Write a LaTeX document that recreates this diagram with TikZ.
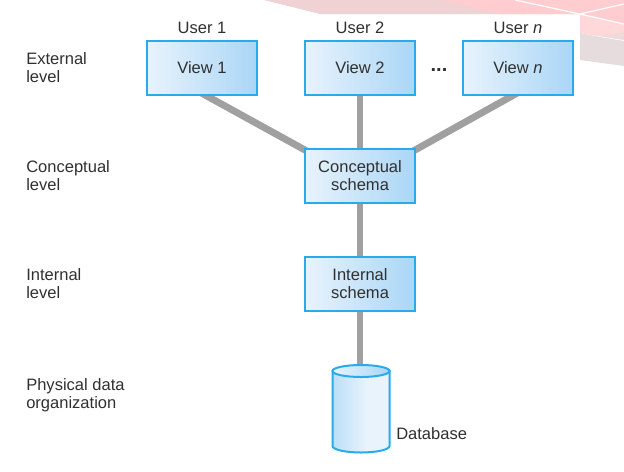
\documentclass[tikz,border=0pt]{standalone}
\usepackage{fontspec}
\setmainfont{Liberation Sans}
\usetikzlibrary{backgrounds}
\definecolor{boxedge}{HTML}{29ABE9}
\definecolor{boxlight}{HTML}{E8F3FC}
\definecolor{boxdark}{HTML}{AAD6F6}
\definecolor{linkgray}{HTML}{A0A0A0}
\definecolor{inktext}{HTML}{303030}
\definecolor{bandrose}{HTML}{F0D1D4}
\definecolor{bandred}{HTML}{FFCDD0}
\definecolor{bandpale}{HTML}{FFD8DA}
\definecolor{bandgray}{HTML}{E6DCDE}
\definecolor{bandmid}{HTML}{EFD9DB}
\pgfdeclarehorizontalshading{drumbody}{100bp}{
  color(0bp)=(boxdark); color(25bp)=(boxdark!80); color(55bp)=(boxlight);
  color(72bp)=(boxlight); color(100bp)=(boxdark)}
\tikzset{
  x=0.75pt, y=-0.75pt,
  every node/.style={font=\fontsize{12.4pt}{13.6pt}\selectfont, text=inktext},
  schemabox/.style={draw=boxedge, line width=1.5pt, left color=boxlight, right color=boxdark,
    minimum width=82pt, minimum height=41pt, inner sep=0pt, align=center},
  levellabel/.style={anchor=north west, align=left, inner sep=0pt},
  caption/.style={anchor=center, inner sep=0pt},
  link/.style={draw=linkgray, line width=5.2pt, shorten <=-5pt, shorten >=-5pt},
}
\begin{document}
\begin{tikzpicture}
  \useasboundingbox (0,0) rectangle (624,471);

  % Level captions on the left
  \node[levellabel] (lext) at (26,52) {External\\level};
  \node[levellabel] (lcon) at (26,160) {Conceptual\\level};
  \node[levellabel] (lint) at (26,268) {Internal\\level};
  \node[levellabel] (lphy) at (26,378) {Physical data\\organization};

  % Users and their views
  \node[caption] (u1) at (202,27.5) {User 1};
  \node[caption] (u2) at (360,27.5) {User 2};
  \node[caption] (un) at (518,27.5) {User \textit{n}};
  \node[schemabox] (v1) at (202,68) {View 1};
  \node[schemabox] (v2) at (360,68) {View 2};
  \node[schemabox] (vn) at (518,68) {View \textit{n}};
  \node[caption, anchor=base, font=\fontsize{15pt}{15pt}\selectfont\bfseries] (dots) at (439,71) {...};

  % Schemas
  \node[schemabox] (cs) at (360,176) {Conceptual\\schema};
  \node[schemabox] (is) at (360,284) {Internal\\schema};

  % Database drum; its top centre is where the link from the internal schema ends
  \coordinate (db) at (361,371);
  \draw[boxedge, line width=1.5pt, shading=drumbody]
    (332.5,371) -- (332.5,446) arc[start angle=180, end angle=0, x radius=28.5, y radius=6.5]
    -- (389.5,371) -- cycle;
  \draw[boxedge, line width=1.5pt, left color=boxlight, right color=boxdark]
    (db) ellipse[x radius=28.5, y radius=6];
  \node[caption, anchor=west] (dbl) at (396,434) {Database};

  \begin{pgfonlayer}{background}
    % Decorative band along the top edge
    \fill[bandrose] (264,0) -- (624,0) -- (624,14) -- (320,14) -- cycle;
    \fill[bandred] (440,0) -- (624,0) -- (624,14) -- (500,14) -- cycle;
    \fill[bandpale] (580,14) -- (624,14) -- (624,40) -- (580,33) -- cycle;
    \fill[bandred] (580,14) -- (624,4) -- (624,24) -- cycle;
    \fill[bandmid] (580,33) -- (600,36) -- (624,32) -- (624,40) -- cycle;
    \fill[bandgray] (580,33) -- (600,37) -- (624,41) -- (624,66) -- (580,60) -- cycle;
    \draw[white, line width=0.9pt] (515,0) -- (580,14) -- (624,24);
    \draw[white, line width=0.9pt] (580,14) -- (624,4);

    % Links between the levels
    \draw[link] ([xshift=4.1pt]v1.south) -- ([yshift=-1.5pt]cs.north west);
    \draw[link] (v2.south) -- (cs.north);
    \draw[link] ([xshift=-5pt]vn.south) -- ([yshift=-1.5pt]cs.north east);
    \draw[link] (cs.south) -- (is.north);
    \draw[link] (is.south) -- (is.south |- db);
  \end{pgfonlayer}
\end{tikzpicture}
\end{document}
